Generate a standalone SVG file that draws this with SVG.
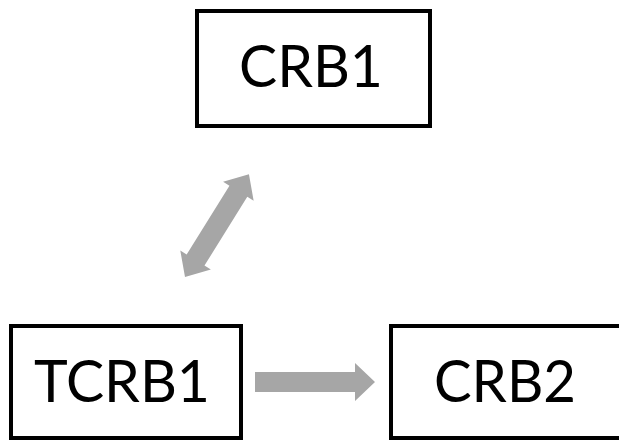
<svg xmlns="http://www.w3.org/2000/svg" width="619" height="441" viewBox="0 0 619 441">
<style>
.box{fill:#fff;stroke:#000;stroke-width:4}
.lbl{font-family:Lato,"Open Sans",sans-serif;font-size:59px;fill:#000;text-anchor:middle}
.arr{fill:#a6a6a6}
</style>
<rect width="619" height="441" fill="#fff"/>
<g id="connectors">
<polygon class="arr" transform="translate(185,277) rotate(-58.1)" points="0,0 20,-18 20,-10.5 101,-10.5 101,-18 121,0 101,18 101,10.5 20,10.5 20,18"/>
<polygon class="arr" points="255,372 355,372 355,363 375,382 355,401 355,392 255,392"/>
</g>
<g id="CRB1">
<rect class="box" x="197" y="11" width="233" height="115"/>
<text class="lbl" x="311" y="87" textLength="144" lengthAdjust="spacingAndGlyphs">CRB1</text>
</g>
<g id="TCRB1">
<rect class="box" x="11" y="326" width="230" height="112"/>
<text class="lbl" x="122" y="402" textLength="176" lengthAdjust="spacingAndGlyphs">TCRB1</text>
</g>
<g id="CRB2">
<rect class="box" x="391" y="326" width="240" height="112"/>
<text class="lbl" x="505" y="402" textLength="142" lengthAdjust="spacingAndGlyphs">CRB2</text>
</g>
</svg>
